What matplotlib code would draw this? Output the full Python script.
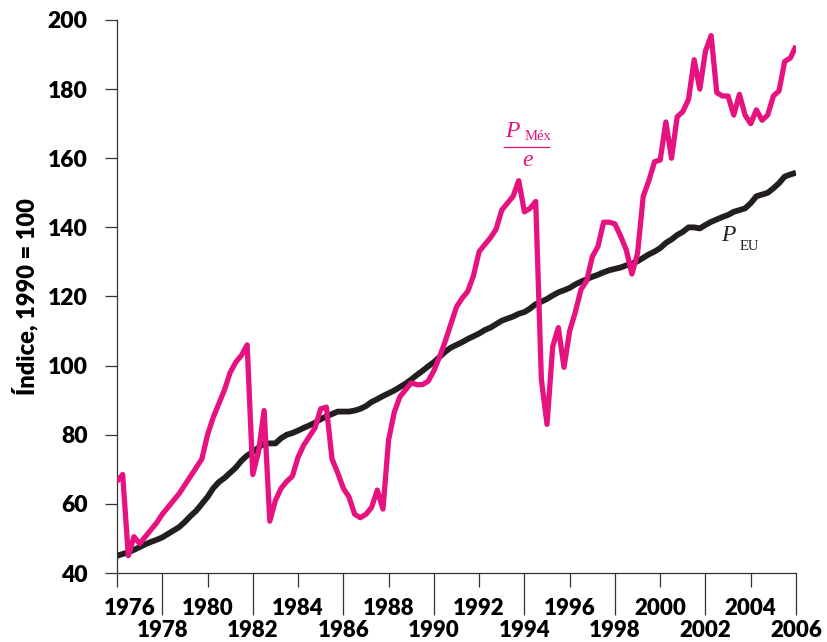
import numpy as np
import matplotlib
matplotlib.use("Agg")
import matplotlib.pyplot as plt
import matplotlib.transforms as mtransforms

# Trimestres 1976T1 - 2006T1
anos = np.arange(1976, 2006.01, 0.25)

# P_Méx / e  (índice, 1990 = 100)
p_mex_e = [
    66.5, 68.5, 45.0, 50.5,
    48.5, 50.5, 52.5, 54.5,
    57.0, 59.0, 61.0, 63.0,
    65.5, 68.0, 70.5, 73.0,
    80.0, 85.0, 89.0, 93.0,
    98.0, 101.0, 103.0, 106.0,
    68.5, 75.0, 87.0, 55.0,
    61.0, 64.5, 66.5, 68.0,
    73.5, 77.0, 79.5, 82.0,
    87.5, 88.0, 73.0, 69.0,
    64.5, 62.0, 57.0, 56.0,
    57.0, 59.0, 64.0, 58.5,
    78.5, 86.5, 91.0, 93.0,
    95.0, 94.5, 94.5, 95.5,
    98.5, 102.5, 107.0, 112.0,
    117.0, 119.5, 121.5, 126.0,
    133.0, 135.0, 137.0, 139.5,
    145.0, 147.0, 149.0, 153.5,
    144.5, 145.5, 147.5, 96.0,
    83.0, 105.5, 111.0, 99.5,
    110.0, 115.5, 122.0, 124.5,
    131.5, 134.5, 141.5, 141.5,
    141.0, 137.5, 133.5, 126.5,
    132.5, 149.0, 153.5, 159.0,
    159.5, 170.5, 160.0, 172.0,
    173.5, 177.0, 188.5, 180.0,
    191.0, 195.5, 179.0, 178.0,
    178.0, 172.5, 178.5, 172.5,
    170.0, 174.0, 171.0, 172.5,
    178.0, 179.5, 188.0, 189.0,
    192.5,
]

# P_EU
p_eu = [
    45.0, 45.5, 46.0, 46.7,
    47.5, 48.3, 49.0, 49.6,
    50.3, 51.3, 52.3, 53.3,
    54.8, 56.5, 58.0, 60.0,
    62.0, 64.5, 66.3, 67.5,
    69.0, 70.5, 72.5, 74.0,
    75.0, 76.3, 77.5, 77.5,
    77.5, 79.0, 80.0, 80.5,
    81.2, 82.0, 82.7, 83.5,
    84.5, 85.3, 86.0, 86.7,
    86.7, 86.7, 87.0, 87.5,
    88.3, 89.5, 90.3, 91.2,
    92.0, 92.8, 93.8, 94.8,
    96.0, 97.3, 98.5, 99.8,
    101.0, 102.5, 104.0, 105.2,
    106.0, 106.8, 107.7, 108.5,
    109.3, 110.3, 111.0, 112.0,
    113.0, 113.6, 114.2, 115.0,
    115.5, 116.5, 117.8, 118.5,
    119.3, 120.3, 121.2, 121.8,
    122.5, 123.5, 124.3, 125.0,
    125.7, 126.3, 127.0, 127.6,
    128.0, 128.4, 129.0, 129.5,
    130.2, 131.2, 132.2, 133.0,
    134.0, 135.5, 136.5, 137.8,
    138.7, 140.0, 140.0, 139.7,
    140.7, 141.6, 142.3, 143.0,
    143.6, 144.5, 145.0, 145.5,
    147.0, 149.0, 149.5, 150.0,
    151.3, 152.8, 154.7, 155.3,
    155.8,
]

anos_arriba = [1976, 1980, 1984, 1988, 1992, 1996, 2000, 2004]
anos_abajo = [1978, 1982, 1986, 1990, 1994, 1998, 2002, 2006]
y_ticks = [40, 60, 80, 100, 120, 140, 160, 180, 200]

rosa = "#E6127F"
negro = "#231F20"
fuente = "Lato"
peso = "heavy"

fig = plt.figure(figsize=(8.27, 6.42), dpi=100)
ax = fig.add_axes([117/827, 1 - 573/642, (796 - 117)/827, (573 - 20)/642])

ax.plot(anos, p_eu, color=negro, lw=4.2, solid_capstyle="butt", zorder=2)
ax.plot(anos, p_mex_e, color=rosa, lw=3.8, solid_capstyle="butt", zorder=3)

ax.set_xlim(1976, 2006)
ax.set_ylim(40, 200)

for s in ["top", "right"]:
    ax.spines[s].set_visible(False)
for s in ["left", "bottom"]:
    ax.spines[s].set_color("#333333")
    ax.spines[s].set_linewidth(0.9)

# eje y
ax.set_yticks(y_ticks)
ax.set_yticklabels([str(v) for v in y_ticks], fontfamily=fuente,
                   fontweight=peso, fontsize=16.5)
ax.tick_params(axis="y", direction="out", length=9, width=0.9,
               color="#333333", pad=12)

# eje x en dos filas: ticks cortos y largos
ax.set_xticks(anos_abajo)
ax.set_xticklabels([str(a) for a in anos_abajo], fontfamily=fuente,
                   fontweight=peso, fontsize=16)
ax.set_xticks(anos_arriba, minor=True)
ax.set_xticklabels([str(a) for a in anos_arriba], minor=True,
                   fontfamily=fuente, fontweight=peso, fontsize=16)
ax.tick_params(axis="x", which="major", direction="out", length=30,
               width=0.9, color="#333333", pad=4)
ax.tick_params(axis="x", which="minor", direction="out", length=10,
               width=0.9, color="#333333", pad=8)

# 1976 un poco a la derecha para no chocar con el eje y
lbl = ax.xaxis.get_minor_ticks()[0].label1
lbl.set_transform(lbl.get_transform() +
                  mtransforms.ScaledTranslation(9/72, 0, fig.dpi_scale_trans))

ax.set_ylabel("Índice, 1990 = 100", fontfamily=fuente, fontweight=peso,
              fontsize=17, labelpad=7)

# etiquetas de las series
serif = "Liberation Serif"
ax.text(1993.45, 167.8, "P", color=rosa, fontfamily=serif, style="italic",
        fontsize=17, ha="center", va="center")
ax.text(1994.6, 166.3, "Méx", color=rosa, fontfamily=serif,
        fontsize=10.5, ha="center", va="center")
ax.hlines(163.3, 1993.05, 1995.15, color=rosa, lw=0.9)
ax.text(1994.12, 159.3, "e", color=rosa, fontfamily=serif, style="italic",
        fontsize=17, ha="center", va="center")

ax.text(2003.0, 137.6, "P", color=negro, fontfamily=serif, style="italic",
        fontsize=17, ha="center", va="center")
ax.text(2003.95, 134.6, "EU", color=negro, fontfamily=serif,
        fontsize=10.5, ha="center", va="center")

fig.savefig("out.png", dpi=100)
